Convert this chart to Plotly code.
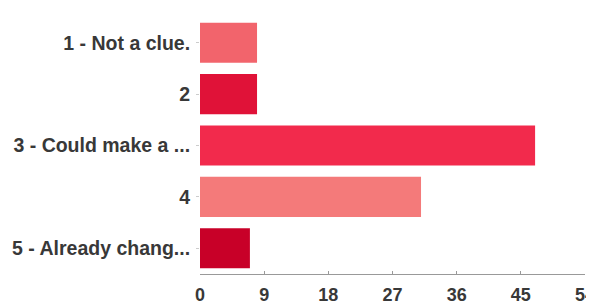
import plotly.graph_objects as go

categories = ["1 - Not a clue.", "2", "3 - Could make a ...", "4", "5 - Already chang..."]
counts = [8, 8, 47, 31, 7]
bar_colors = ["#f2646c", "#e01238", "#f22a4c", "#f47a7a", "#c80028"]
x_ticks = [0, 9, 18, 27, 36, 45, 54]

fig = go.Figure(go.Bar(
    x=counts,
    y=categories,
    orientation="h",
    marker=dict(color=bar_colors, line=dict(width=0)),
))

# page body has an 8px default margin, so the figure is shrunk/offset to fit the window
fig.update_layout(
    width=586, height=296,
    margin=dict(l=192, r=9, t=9, b=30, autoexpand=False),
    paper_bgcolor="white", plot_bgcolor="white",
    bargap=0.22,
    showlegend=False,
    font=dict(family="Liberation Sans, Arial, sans-serif", color="#383838"),
)
fig.update_yaxes(
    autorange="reversed",
    automargin=False,
    tickfont=dict(size=19.5, color="#383838", weight="bold"),
    ticks="outside", ticklen=3, tickcolor="#cccccc",
    showline=False, showgrid=False,
    ticklabelstandoff=2,
)
fig.update_xaxes(
    range=[0, 54],
    automargin=False,
    tickvals=x_ticks,
    ticktext=[str(v) for v in x_ticks],
    tickfont=dict(size=18, color="#383838", weight="bold"),
    showline=True, linecolor="#999999", linewidth=1,
    ticks="inside", ticklen=3, tickcolor="#999999",
    showgrid=False, zeroline=False,
    ticklabelstandoff=4,
    ticklabeloverflow="allow",
)

fig.write_html("out.html")
